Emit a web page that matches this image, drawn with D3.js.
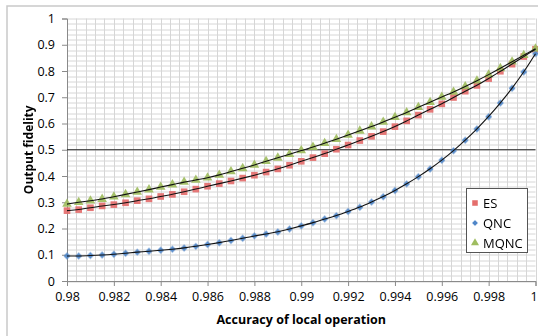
<!DOCTYPE html>
<html>
<head>
<meta charset="utf-8">
<script src="https://cdn.jsdelivr.net/npm/d3@7"></script>
<style>
  html, body { margin: 0; padding: 0; background: #fff; }
  svg { display: block; font-family: "Open Sans", sans-serif; }
</style>
</head>
<body>
<div id="chart"></div>
<script>
// accuracy of local operation, 0.98 .. 1 in steps of 0.0005
const xs = d3.range(41).map(i => +(0.98 + i * 0.0005).toFixed(4));

const esVals = [0.268, 0.272, 0.279, 0.286, 0.291, 0.298, 0.306, 0.313, 0.322, 0.330,
  0.340, 0.350, 0.361, 0.371, 0.381, 0.392, 0.403, 0.415, 0.427, 0.441,
  0.456, 0.470, 0.485, 0.502, 0.518, 0.535, 0.551, 0.569, 0.588, 0.610,
  0.632, 0.654, 0.675, 0.699, 0.723, 0.745, 0.771, 0.799, 0.826, 0.855, 0.883];

const qncVals = [0.095, 0.095, 0.097, 0.099, 0.102, 0.106, 0.110, 0.113, 0.117, 0.121,
  0.126, 0.132, 0.139, 0.146, 0.154, 0.163, 0.172, 0.179, 0.187, 0.198,
  0.210, 0.222, 0.236, 0.249, 0.265, 0.281, 0.301, 0.321, 0.345, 0.370,
  0.397, 0.427, 0.460, 0.496, 0.536, 0.579, 0.626, 0.678, 0.734, 0.796, 0.866];

const mqncVals = [0.293, 0.300, 0.306, 0.312, 0.321, 0.330, 0.339, 0.348, 0.358, 0.367,
  0.377, 0.385, 0.393, 0.404, 0.417, 0.429, 0.442, 0.456, 0.469, 0.483,
  0.497, 0.510, 0.525, 0.540, 0.556, 0.572, 0.588, 0.606, 0.624, 0.642,
  0.662, 0.681, 0.701, 0.720, 0.741, 0.763, 0.786, 0.810, 0.835, 0.860, 0.885];

const seriesNames = ["ES", "QNC", "MQNC"];
const xTicks = d3.range(11).map(i => +(0.98 + i * 0.002).toFixed(3));
const yTicks = d3.range(11).map(i => +(i * 0.1).toFixed(1));
const refLines = [0.5];

const W = 538, H = 336;
const MG = {t:18.5, r:2.5, b:55, l:67};
const iW = W - MG.l - MG.r, iH = H - MG.t - MG.b;

// rot: diamonds are squares turned 45deg so they come out even, not tall
const series = [
  {name:"ES",   vals:esVals,   color:"#e46e6c", sym:d3.symbolSquare,   size:44, rot:0},
  {name:"QNC",  vals:qncVals,  color:"#4f86c8", sym:d3.symbolSquare,   size:24, rot:45},
  {name:"MQNC", vals:mqncVals, color:"#9fbd60", sym:d3.symbolTriangle, size:40, rot:0}
];

const svg = d3.select("#chart").append("svg").attr("width", W).attr("height", H);

// soft edge on the markers, like the glow in the original
svg.append("defs").append("filter").attr("id", "soft")
  .attr("x", "-50%").attr("y", "-50%").attr("width", "200%").attr("height", "200%")
  .append("feGaussianBlur").attr("stdDeviation", 0.45);

// outer chart frame
svg.append("rect").attr("x", 7).attr("y", 6).attr("width", W + 10).attr("height", H + 10)
  .attr("fill", "none").attr("stroke", "#c9c9c9").attr("stroke-width", 1.5);

const g = svg.append("g").attr("transform", `translate(${MG.l},${MG.t})`);

const xSc = d3.scaleLinear().domain([0.98, 1]).range([0, iW]);
const ySc = d3.scaleLinear().domain([0, 1]).range([iH, 0]);

// minor + major gridlines
const xGrid = d3.range(51).map(i => 0.98 + i * 0.0004);
const yGrid = d3.range(51).map(i => i * 0.02);
g.append("g").selectAll("line").data(xGrid).join("line")
  .attr("x1", d => Math.round(xSc(d)) + 0.5).attr("x2", d => Math.round(xSc(d)) + 0.5)
  .attr("y1", 0).attr("y2", iH).attr("stroke", "#d6d6d6").attr("stroke-width", 1);
g.append("g").selectAll("line").data(yGrid).join("line")
  .attr("y1", d => Math.round(ySc(d)) + 0.5).attr("y2", d => Math.round(ySc(d)) + 0.5)
  .attr("x1", 0).attr("x2", iW).attr("stroke", "#d6d6d6").attr("stroke-width", 1);

// axes
const xAx = g.append("g").attr("transform", `translate(0,${iH})`)
  .call(d3.axisBottom(xSc).tickValues(xTicks).tickSize(5).tickPadding(6)
    .tickFormat(d => d3.format("")(+d.toFixed(3))));
const yAx = g.append("g")
  .call(d3.axisLeft(ySc).tickValues(yTicks).tickSize(5).tickPadding(7)
    .tickFormat(d => d3.format("")(+d.toFixed(1))));
[xAx, yAx].forEach(a => {
  a.select(".domain").attr("stroke", "#8a8a8a");
  a.selectAll(".tick line").attr("stroke", "#8a8a8a");
  a.selectAll(".tick text").attr("fill", "#000").attr("font-size", 12.5)
    .attr("font-family", "'Open Sans', sans-serif");
});
// last x label sits on the window edge: nudge it in
xAx.selectAll(".tick text").filter(d => d === 1).attr("dx", -2);

// reference line
g.append("g").selectAll("line").data(refLines).join("line")
  .attr("x1", 0).attr("x2", iW).attr("y1", d => ySc(d)).attr("y2", d => ySc(d))
  .attr("stroke", "#222").attr("stroke-width", 1);

// markers
series.forEach(s => {
  g.append("g").attr("filter", "url(#soft)").selectAll("path").data(s.vals).join("path")
    .attr("transform", (v, i) => `translate(${xSc(xs[i])},${ySc(v)}) rotate(${s.rot})`)
    .attr("d", d3.symbol().type(s.sym).size(s.size))
    .attr("fill", s.color).attr("opacity", 0.92);
});

// black trendlines
const line = d3.line().x((v, i) => xSc(xs[i])).y(v => ySc(v)).curve(d3.curveBasis);
series.forEach(s => {
  g.append("path").attr("d", line(s.vals))
    .attr("fill", "none").attr("stroke", "#111").attr("stroke-width", 1.1);
});

// axis titles
svg.append("text").attr("x", MG.l + iW / 2).attr("y", 324).attr("text-anchor", "middle")
  .attr("font-weight", "bold").attr("font-size", 12.5).text("Accuracy of local operation");
svg.append("text").attr("transform", `translate(33,${MG.t + iH / 2}) rotate(-90)`)
  .attr("text-anchor", "middle").attr("font-weight", "bold").attr("font-size", 12)
  .text("Output fidelity");

// legend
const leg = svg.append("g").attr("transform", "translate(466,188)");
leg.append("rect").attr("x", 0.5).attr("y", 0.5).attr("width", 61).attr("height", 64)
  .attr("fill", "#fff").attr("stroke", "#555").attr("stroke-width", 1);
seriesNames.forEach((n, i) => {
  const s = series.find(d => d.name === n);
  const row = leg.append("g").attr("transform", `translate(9,${15 + i * 20})`);
  row.append("path").attr("d", d3.symbol().type(s.sym).size(s.size * 0.7))
    .attr("transform", `rotate(${s.rot})`)
    .attr("fill", s.color).attr("filter", "url(#soft)");
  row.append("text").attr("x", 8).attr("y", 4.5).attr("font-size", 13).text(n);
});
</script>
</body>
</html>
